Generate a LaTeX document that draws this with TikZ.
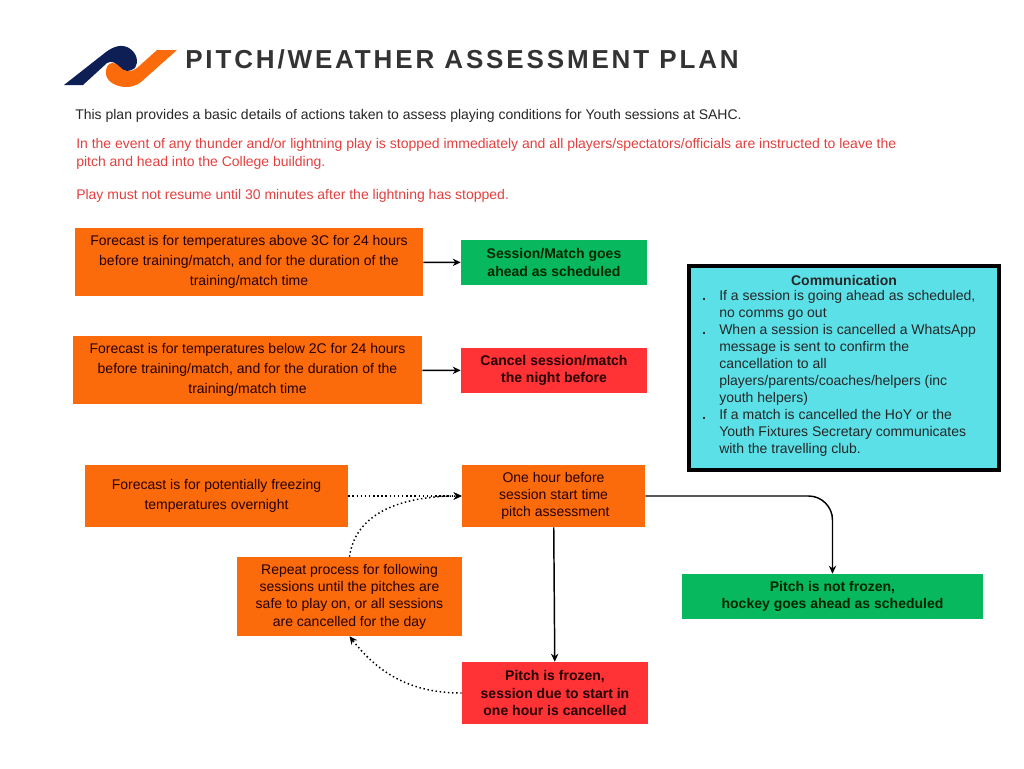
\documentclass[tikz,border=0pt]{standalone}
\usepackage{fontspec}
\setmainfont{Liberation Sans}
\newfontfamily\titlefont[LetterSpace=11]{Liberation Sans}
\usetikzlibrary{
  arrows.meta,              % Stealth arrow tips
  positioning               % relative placement
}
\definecolor{sahcnavy}{HTML}{0E1F56}
\definecolor{sahcorange}{HTML}{FB6B0C}
\definecolor{sahcgreen}{HTML}{08B85F}
\definecolor{sahcred}{HTML}{FF3336}
\definecolor{sahccyan}{HTML}{5BE0E8}
\definecolor{warntext}{HTML}{E2403F}
\newcommand{\commdot}{\llap{\textbf{.}\hspace{10pt}}}
\tikzset{
  plain text/.style={
    anchor=west,
    inner sep=0pt,
    align=left,
    font=\fontsize{10.5}{13.2}\selectfont
  },
  warn text/.style={
    plain text,
    text=warntext
  },
  flow box/.style={
    rectangle,
    inner sep=0pt,
    align=center,
    text=black!85!red,
    font=\fontsize{10.5}{13}\selectfont
  },
  forecast box/.style={
    flow box,
    fill=sahcorange,
    font=\fontsize{10.5}{15}\selectfont
  },
  step box/.style={
    flow box,
    fill=sahcorange
  },
  go box/.style={
    flow box,
    fill=sahcgreen,
    text=black!85!green,
    font=\fontsize{10.5}{13}\selectfont\bfseries
  },
  stop box/.style={
    flow box,
    fill=sahcred,
    font=\fontsize{10.5}{13}\selectfont\bfseries
  },
  solid link/.style={
    -{Stealth[length=6pt,width=5.5pt]},
    line width=1.1pt,
    color=black
  },
  dotted link/.style={
    -{Stealth[length=6pt,width=5.5pt]},
    line width=1.1pt,
    color=black,
    dotted
  }
}

\begin{document}
\begin{tikzpicture}[x=0.75pt, y=-0.75pt, >=Stealth]
    \useasboundingbox (0,0) rectangle (1024,768);

    % --- logo and heading ---
    \fill[sahcnavy] (64,85) -- (106,52) .. controls (114,46) and (122,44) .. (129,48)
      .. controls (137,53) and (139,62) .. (135,68)
      .. controls (130,72) and (124,72) .. (120,68)
      .. controls (116,63) and (112,60) .. (107,63) -- (83,85) -- cycle;
    \fill[sahcorange] (177,50) -- (157,50) -- (137,68)
      .. controls (130,73) and (124,72) .. (120,67)
      .. controls (115,62) and (110,61) .. (107,67)
      .. controls (104,74) and (107,80) .. (112,83)
      .. controls (120,88) and (132,89) .. (141,82) -- cycle;
    \node[anchor=west, inner sep=0pt, text=black!80, font=\titlefont\fontsize{19.5}{22}\selectfont\bfseries]
      (heading) at (185,59) {PITCH/WEATHER ASSESSMENT PLAN};

    % --- introduction ---
    \node[plain text, text=black!85] (intro) at (75,116)
      {This plan provides a basic details of actions taken to assess playing conditions for Youth sessions at SAHC.};
    \node[warn text] (thunder) at (76,154)
      {In the event of any thunder and/or lightning play is stopped immediately and all players/spectators/officials are instructed to leave the\\
       pitch and head into the College building.};
    \node[warn text] (resume) at (76,196)
      {Play must not resume until 30 minutes after the lightning has stopped.};

    % --- forecast rows ---
    \node[forecast box, minimum width=261pt, minimum height=51pt] (above) at (249,262)
      {Forecast is for temperatures above 3C for 24 hours\\before training/match, and for the duration of the\\training/match time};
    \node[go box, minimum width=139.5pt, minimum height=33.75pt] (ahead) at (554,262.5)
      {Session/Match goes\\ahead as scheduled};
    \node[forecast box, minimum width=261.75pt, minimum height=51pt] (below) at (247.5,370)
      {Forecast is for temperatures below 2C for 24 hours\\before training/match, and for the duration of the\\training/match time};
    \node[stop box, minimum width=139.5pt, minimum height=33.75pt] (cancel) at (554,370.5)
      {Cancel session/match\\the night before};
    \draw[solid link] (above) -- (ahead);
    \draw[solid link] (below) -- (cancel);

    % --- frost process ---
    \node[forecast box, minimum width=197.25pt, minimum height=46.5pt] (freezing) at (216.5,496)
      {Forecast is for potentially freezing\\temperatures overnight};
    \node[step box, minimum width=137.25pt, minimum height=46.5pt] (hour) at (553.5,496)
      {One hour before\\session start time\\\ pitch assessment};
    \node[step box, minimum width=168.75pt, minimum height=59.25pt] (repeat) at (349.5,596.5)
      {Repeat process for following\\sessions until the pitches are\\safe to play on, or all sessions\\are cancelled for the day};
    \node[stop box, minimum width=139.5pt, minimum height=46.5pt] (frozen) at (555,693)
      {Pitch is frozen,\\session due to start in\\one hour is cancelled};
    \node[go box, minimum width=225.75pt, minimum height=33.75pt] (notfrozen) at (832.5,596.5)
      {Pitch is not frozen,\\hockey goes ahead as scheduled};
    \draw[dotted link] (freezing) -- (hour);
    \draw[dotted link] (repeat.north) to[out=82, in=180] (hour.west);
    \draw[dotted link] (frozen.west) to[out=180, in=-52] (repeat.south);
    \draw[solid link] (hour) -- (frozen);
    \draw[solid link, rounded corners=18pt] (hour.east) -| (notfrozen.north);

    % --- communication panel ---
    \node[rectangle, draw=black, line width=3pt, fill=sahccyan, minimum width=233pt, minimum height=153pt, inner sep=0pt]
      (panel) at (844,368) {};
    \node[inner sep=0pt, font=\fontsize{10.5}{13}\selectfont\bfseries, text=black!85] (commtitle) at (844,280) {Communication};
    \node[anchor=north west, inner sep=0pt, align=left, text=black!85, font=\fontsize{10.5}{12.75}\selectfont]
      (commlist) at (719,290)
      {\commdot If a session is going ahead as scheduled,\\
       no comms go out\\
       \commdot When a session is cancelled a WhatsApp\\
       message is sent to confirm the\\
       cancellation to all\\
       players/parents/coaches/helpers (inc\\
       youth helpers)\\
       \commdot If a match is cancelled the HoY or the\\
       Youth Fixtures Secretary communicates\\
       with the travelling club.};
\end{tikzpicture}
\end{document}
